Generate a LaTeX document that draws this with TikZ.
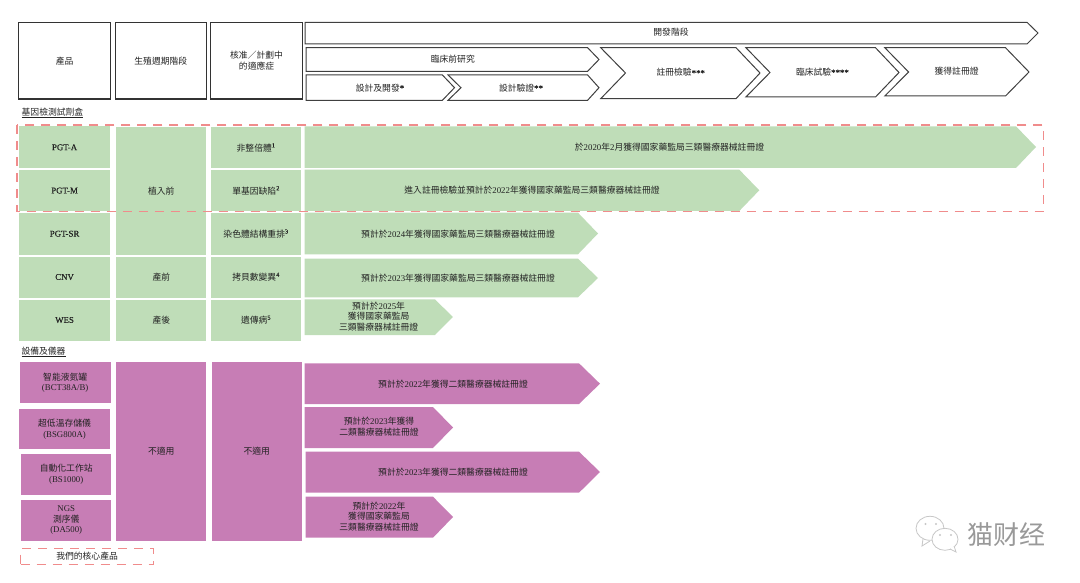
\documentclass[tikz,border=0pt]{standalone}
\usepackage{fontspec}
\setmainfont{Noto Sans CJK TC}
\newfontfamily\lat{Liberation Serif}
\newfontfamily\latb[FakeBold=0.4]{Liberation Serif}
\newfontfamily\cjksc{Noto Sans CJK SC}
\definecolor{leafgreen}{HTML}{BFDDB8}
\definecolor{plum}{HTML}{C77DB5}
\definecolor{dashred}{HTML}{F08C8C}
\definecolor{inkdark}{HTML}{222222}
\tikzset{
  txt/.style={inner sep=0pt,align=center,text=inkdark,font=\fontsize{8.8}{10.8}\selectfont},
  headbox/.style={txt,draw=black!80,line width=1.1pt},
  greencell/.style={txt,fill=leafgreen},
  plumcell/.style={txt,fill=plum},
  stagearrow/.style={draw=black!75,line width=1pt,fill=white},
  greenarrow/.style={fill=leafgreen},
  plumarrow/.style={fill=plum},
  redline/.style={draw=dashred,line width=1.2pt,dash pattern=on 9pt off 7pt},
  wechat/.style={draw=black!22,line width=.8pt,fill=white},
}
% style, name, left, top, right, bottom, text
\newcommand{\cell}[7]{\node[#1,anchor=north west,minimum width={#5pt-#3pt},minimum height={#6pt-#4pt}] (#2) at (#3,#4) {#7};}
\begin{document}
\begin{tikzpicture}[x=1pt,y=-1pt]
\useasboundingbox (0,0) rectangle (1080,583);

% header
\cell{headbox}{product}{18}{22.3}{110}{98.5}{產品}
\cell{headbox}{cycle}{114.5}{22.3}{206}{98.5}{生殖週期階段}
\cell{headbox}{indication}{210}{22.3}{302}{98.5}{核准／計劃中\\的適應症}

\draw[stagearrow] (305,22.3) -- (1027,22.3) -- (1038,33) -- (1027,44) -- (305,44) -- cycle;
\node[txt] (devstage) at (671,32) {開發階段};
\draw[stagearrow] (306,47.7) -- (587.6,47.7) -- (599,59.5) -- (587.6,71.3) -- (306,71.3) -- cycle;
\node[txt] (preclinical) at (452.8,59) {臨床前研究};
\draw[stagearrow] (306,75) -- (442.4,75) -- (454.5,87.7) -- (442.4,100.3) -- (306,100.3) -- cycle;
\node[txt] (design) at (380,87.7) {設計及開發{\latb *}};
\draw[stagearrow] (448,75) -- (587.6,75) -- (599,87.7) -- (587.6,100.3) -- (448,100.3) -- (461,87.7) -- cycle;
\node[txt] (verify) at (521,87.7) {設計驗證{\latb **}};
\draw[stagearrow] (600.7,47.7) -- (736,47.7) -- (760,73) -- (736,98.7) -- (600.7,98.7) -- (625.5,73) -- cycle;
\node[txt] (regtest) at (680.7,72.5) {註冊檢驗{\latb ***}};
\draw[stagearrow] (745.9,47.7) -- (875.5,47.7) -- (899,72.5) -- (875.5,97) -- (745.9,97) -- (770,72.5) -- cycle;
\node[txt] (trial) at (822.4,72) {臨床試驗{\latb ****}};
\draw[stagearrow] (884.8,47.7) -- (1005.5,47.7) -- (1029,72) -- (1005.5,96) -- (884.8,96) -- (908.6,72) -- cycle;
\node[txt] (cert) at (956.6,71) {獲得註冊證};

% kits
\node[txt] (kits) at (52.5,113) {\underline{基因檢測試劑盒}};
\cell{greencell}{pgta}{19}{126.3}{109.7}{168}{\latb PGT-A}
\cell{greencell}{pgtm}{19}{169.7}{109.7}{211}{\latb PGT-M}
\cell{greencell}{pgtsr}{19}{212.7}{109.7}{254.3}{\latb PGT-SR}
\cell{greencell}{cnv}{19}{256.3}{109.7}{297.3}{\latb CNV}
\cell{greencell}{wes}{19}{299.3}{109.7}{340.3}{\latb WES}
\cell{greencell}{preimpl}{116}{127}{206.2}{254.3}{植入前}
\cell{greencell}{prenatal}{116}{256.3}{206.2}{297.3}{產前}
\cell{greencell}{postnatal}{116}{299.3}{206.2}{340.3}{產後}
\cell{greencell}{aneu}{210.7}{127}{301}{168}{非整倍體\textsuperscript{\latb 1}}
\cell{greencell}{mono}{210.7}{169.7}{301}{211}{單基因缺陷\textsuperscript{\latb 2}}
\cell{greencell}{chromo}{210.7}{212.7}{301}{254.3}{染色體結構重排\textsuperscript{\latb 3}}
\cell{greencell}{copynum}{210.7}{256.3}{301}{297.3}{拷貝數變異\textsuperscript{\latb 4}}
\cell{greencell}{genetic}{210.7}{299.3}{301}{340.3}{遺傳病\textsuperscript{\latb 5}}

\fill[greenarrow] (304.5,126.3) -- (1016,126.3) -- (1036,147) -- (1016,168) -- (304.5,168) -- cycle;
\node[txt] (pgtatext) at (669.5,147) {於{\lat 2020}年{\lat 2}月獲得國家藥監局三類醫療器械註冊證};
\fill[greenarrow] (304.5,169.7) -- (739.3,169.7) -- (759.3,190.3) -- (739.3,211) -- (304.5,211) -- cycle;
\node[txt] (pgtmtext) at (532,190) {進入註冊檢驗並預計於{\lat 2022}年獲得國家藥監局三類醫療器械註冊證};
\fill[greenarrow] (304.5,212.7) -- (578,212.7) -- (598,233.5) -- (578,254.3) -- (304.5,254.3) -- cycle;
\node[txt] (pgtsrtext) at (458,234) {預計於{\lat 2024}年獲得國家藥監局三類醫療器械註冊證};
\fill[greenarrow] (304.5,258.7) -- (578,258.7) -- (598,278) -- (578,297.3) -- (304.5,297.3) -- cycle;
\node[txt] (cnvtext) at (458,278) {預計於{\lat 2023}年獲得國家藥監局三類醫療器械註冊證};
\fill[greenarrow] (304.5,299.3) -- (435,299.3) -- (452.8,317) -- (435,335) -- (304.5,335) -- cycle;
\node[txt] (westext) at (378.6,316.5) {預計於{\lat 2025}年\\獲得國家藥監局\\三類醫療器械註冊證};

\draw[redline] (17,125) rectangle (1043.4,211.3);

% devices
\node[txt] (devices) at (43.5,352) {\underline{設備及儀器}};
\cell{plumcell}{tank}{19.7}{362}{110.3}{403}{智能液氮罐\\{\lat (BCT38A/B)}}
\cell{plumcell}{storage}{19}{408.3}{109.7}{449}{超低溫存儲儀\\{\lat (BSG800A)}}
\cell{plumcell}{station}{21}{453.7}{111}{494.7}{自動化工作站\\{\lat (BS1000)}}
\cell{plumcell}{sequencer}{21}{499.3}{111}{540.7}{{\lat NGS}\\測序儀\\{\lat (DA500)}}
\cell{plumcell}{naone}{116}{362}{206.2}{540.7}{不適用}
\cell{plumcell}{natwo}{211.4}{362}{301.7}{540.7}{不適用}

\fill[plumarrow] (304.5,363.3) -- (579,363.3) -- (600,383.7) -- (579,404) -- (304.5,404) -- cycle;
\node[txt] (tanktext) at (453,384) {預計於{\lat 2022}年獲得二類醫療器械註冊證};
\fill[plumarrow] (304.5,407) -- (433,407) -- (453,427.5) -- (433,448) -- (304.5,448) -- cycle;
\node[txt] (storagetext) at (379,427) {預計於{\lat 2023}年獲得\\二類醫療器械註冊證};
\fill[plumarrow] (305.5,451.7) -- (579,451.7) -- (600,472) -- (579,492.7) -- (305.5,492.7) -- cycle;
\node[txt] (stationtext) at (453,471.7) {預計於{\lat 2023}年獲得二類醫療器械註冊證};
\fill[plumarrow] (305.5,496.7) -- (433,496.7) -- (453,517) -- (433,537.7) -- (305.5,537.7) -- cycle;
\node[txt] (seqtext) at (379,516.5) {預計於{\lat 2022}年\\獲得國家藥監局\\三類醫療器械註冊證};

% legend
\node[txt,redline,anchor=north west,minimum width=133pt,minimum height=16pt] (core) at (20,548) {我們的核心產品};

% watermark
\draw[wechat] (923,539) -- (922,546) -- (930,541);
\draw[wechat] (930,528.3) ellipse (14 and 12);
\fill[black!22] (925.5,524) circle (1.1) (936,524) circle (1.1);
\draw[wechat] (945,539.3) ellipse (13 and 11);
\draw[wechat] (950,549) -- (956,552) -- (954,546);
\fill[black!22] (940,535) circle (1.1) (951,535) circle (1.1);
\node[inner sep=0pt,text=black!40,font=\cjksc\fontsize{26}{26}\selectfont] (brand) at (1006,535) {猫财经};
\end{tikzpicture}
\end{document}
